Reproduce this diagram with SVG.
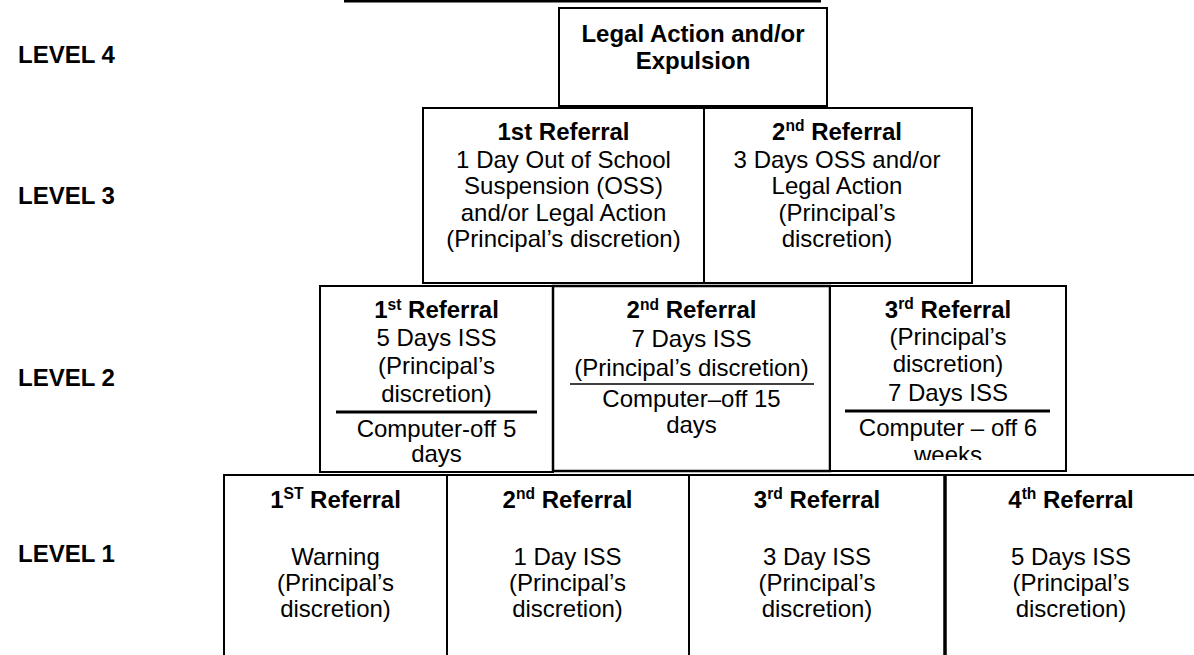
<svg xmlns="http://www.w3.org/2000/svg" width="1194" height="655" viewBox="0 0 1194 655">
<defs>
<style>
text{font-family:"Liberation Sans",Arial,sans-serif;fill:#000}
.lv{font-size:24px;font-weight:bold}
.box{fill:#fff;stroke:#000;stroke-width:2}
.h{font-size:24px;font-weight:bold;text-anchor:middle}
.t{font-size:24px;text-anchor:middle}
.div{stroke:#000;stroke-width:3}
</style>
<clipPath id="clipW"><rect x="830" y="286" width="236" height="174"/></clipPath>
</defs>
<rect width="1194" height="655" fill="#fff"/>
<line x1="344" y1="1" x2="821" y2="1" stroke="#000" stroke-width="3"/>

<g id="labels">
<text class="lv" x="18" y="63">LEVEL 4</text>
<text class="lv" x="18" y="204">LEVEL 3</text>
<text class="lv" x="18" y="386">LEVEL 2</text>
<text class="lv" x="18" y="562">LEVEL 1</text>
</g>

<g id="l4">
<rect class="box" x="559" y="8" width="268" height="98"/>
<text class="h" x="693" y="42">Legal Action and/or</text>
<text class="h" x="693" y="68.5">Expulsion</text>
</g>

<g id="l3a">
<rect class="box" x="423" y="108" width="281" height="175"/>
<text class="h" x="563.5" y="139.5">1st Referral</text>
<text class="t" x="563.5" y="167.5">1 Day Out of School</text>
<text class="t" x="563.5" y="194">Suspension (OSS)</text>
<text class="t" x="563.5" y="220.5">and/or Legal Action</text>
<text class="t" x="563.5" y="246.5">(Principal’s discretion)</text>
</g>
<g id="l3b">
<rect class="box" x="704" y="108" width="268" height="175"/>
<text class="h" x="837" y="139.5">2<tspan font-size="15.6" dy="-8.5">nd</tspan><tspan dy="8.5"> Referral</tspan></text>
<text class="t" x="837" y="167.5">3 Days OSS and/or</text>
<text class="t" x="837" y="194">Legal Action</text>
<text class="t" x="837" y="220.5">(Principal’s</text>
<text class="t" x="837" y="246.5">discretion)</text>
</g>

<g id="l2a">
<rect class="box" x="320" y="286" width="233" height="186"/>
<text class="h" x="436.5" y="318">1<tspan font-size="15.6" dy="-8.5">st</tspan><tspan dy="8.5"> Referral</tspan></text>
<text class="t" x="436.5" y="346">5 Days ISS</text>
<text class="t" x="436.5" y="374">(Principal’s</text>
<text class="t" x="436.5" y="401.5">discretion)</text>
<line class="div" x1="336" y1="412" x2="537" y2="412"/>
<text class="t" x="436.5" y="437">Computer-off 5</text>
<text class="t" x="436.5" y="462">days</text>
</g>
<g id="l2b">
<rect class="box" x="553" y="286" width="277" height="185" style="stroke-width:2.5"/>
<text class="h" x="691.5" y="318">2<tspan font-size="15.6" dy="-8.5">nd</tspan><tspan dy="8.5"> Referral</tspan></text>
<text class="t" x="691.5" y="346.5">7 Days ISS</text>
<text class="t" x="691.5" y="376">(Principal’s discretion)</text>
<line x1="570" y1="384" x2="814" y2="384" stroke="#000" stroke-width="1.5"/>
<text class="t" x="691.5" y="406.5">Computer–off 15</text>
<text class="t" x="691.5" y="433">days</text>
</g>
<g id="l2c">
<rect class="box" x="830" y="286" width="236" height="185"/>
<text class="h" x="948" y="317.5">3<tspan font-size="15.6" dy="-8.5">rd</tspan><tspan dy="8.5"> Referral</tspan></text>
<text class="t" x="948" y="345">(Principal’s</text>
<text class="t" x="948" y="372">discretion)</text>
<text class="t" x="948" y="400.5">7 Days ISS</text>
<line class="div" x1="845" y1="411" x2="1050" y2="411"/>
<text class="t" x="948" y="436">Computer – off 6</text>
<text class="t" x="948" y="463" clip-path="url(#clipW)">weeks</text>
</g>

<g id="l1a">
<rect class="box" x="224" y="475" width="223" height="190"/>
<text class="h" x="335.5" y="507.5">1<tspan font-size="15.6" dy="-8.5">ST</tspan><tspan dy="8.5"> Referral</tspan></text>
<text class="t" x="335.5" y="565">Warning</text>
<text class="t" x="335.5" y="591">(Principal’s</text>
<text class="t" x="335.5" y="617">discretion)</text>
</g>
<g id="l1b">
<rect class="box" x="447" y="475" width="242" height="190"/>
<text class="h" x="567.5" y="507.5">2<tspan font-size="15.6" dy="-8.5">nd</tspan><tspan dy="8.5"> Referral</tspan></text>
<text class="t" x="567.5" y="565">1 Day ISS</text>
<text class="t" x="567.5" y="591">(Principal’s</text>
<text class="t" x="567.5" y="617">discretion)</text>
</g>
<g id="l1c">
<rect class="box" x="689" y="475" width="256" height="190"/>
<text class="h" x="817" y="507.5">3<tspan font-size="15.6" dy="-8.5">rd</tspan><tspan dy="8.5"> Referral</tspan></text>
<text class="t" x="817" y="565">3 Day ISS</text>
<text class="t" x="817" y="591">(Principal’s</text>
<text class="t" x="817" y="617">discretion)</text>
</g>
<g id="l1d">
<rect class="box" x="945" y="475" width="254" height="190"/>
<line x1="945" y1="475" x2="945" y2="655" stroke="#000" stroke-width="3.5"/>
<text class="h" x="1071" y="507.5">4<tspan font-size="15.6" dy="-8.5">th</tspan><tspan dy="8.5"> Referral</tspan></text>
<text class="t" x="1071" y="565">5 Days ISS</text>
<text class="t" x="1071" y="591">(Principal’s</text>
<text class="t" x="1071" y="617">discretion)</text>
</g>
</svg>
